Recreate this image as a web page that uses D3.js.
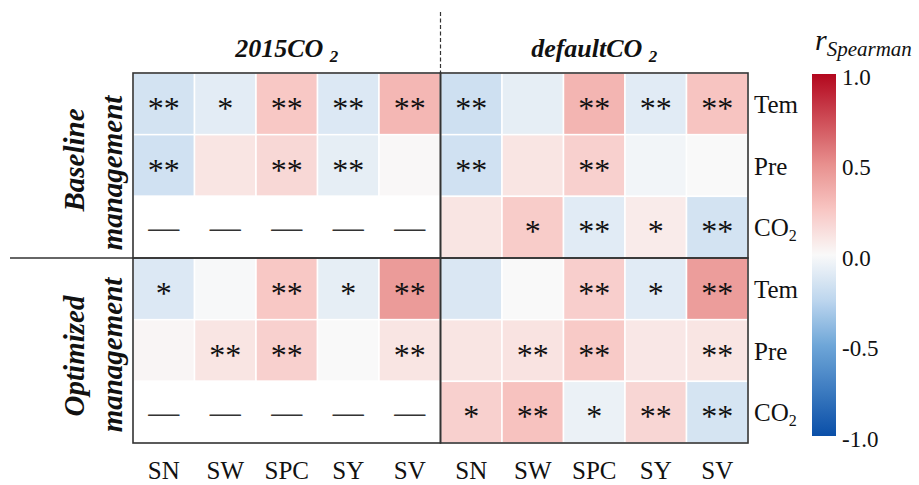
<!DOCTYPE html>
<html>
<head>
<meta charset="utf-8">
<script src="https://cdn.jsdelivr.net/npm/d3@7/dist/d3.min.js"></script>
<style>
  html, body { margin: 0; padding: 0; background: #fff; }
  svg { display: block; font-family: "Liberation Serif", "Times New Roman", serif; }
</style>
</head>
<body>
<svg id="chart" width="919" height="485"></svg>
<script>
// Spearman correlations between drivers and yield components
const components = ["SN", "SW", "SPC", "SY", "SV"];
const scenarios = ["2015CO2", "defaultCO2"];
const managements = [["Baseline", "management"], ["Optimized", "management"]];
const drivers = ["Tem", "Pre", "CO2"];

// columns: 2015CO2 (SN..SV) then defaultCO2 (SN..SV); null = not computed
const baselineTem = [-0.16, -0.09, 0.24, -0.12, 0.32, -0.18, -0.08, 0.33, -0.10, 0.26];
const baselinePre = [-0.17, 0.10, 0.16, -0.08, 0.01, -0.17, 0.10, 0.20, -0.03, 0.00];
const baselineCO2 = [null, null, null, null, null, 0.10, 0.22, -0.10, 0.07, -0.16];
const optimizedTem = [-0.12, -0.01, 0.24, -0.08, 0.45, -0.13, 0.00, 0.21, -0.10, 0.44];
const optimizedPre = [0.02, 0.10, 0.20, 0.00, 0.10, 0.10, 0.11, 0.23, 0.09, 0.10];
const optimizedCO2 = [null, null, null, null, null, 0.20, 0.27, -0.06, 0.17, -0.15];

// significance marks (* p<0.05, ** p<0.01)
const baselineTemSig = ["**", "*", "**", "**", "**", "**", "", "**", "**", "**"];
const baselinePreSig = ["**", "", "**", "**", "", "**", "", "**", "", ""];
const baselineCO2Sig = ["", "", "", "", "", "", "*", "**", "*", "**"];
const optimizedTemSig = ["*", "", "**", "*", "**", "", "", "**", "*", "**"];
const optimizedPreSig = ["", "**", "**", "", "**", "", "**", "**", "", "**"];
const optimizedCO2Sig = ["", "", "", "", "", "*", "**", "*", "**", "**"];

const colorbarTicks = [-1.0, -0.5, 0.0, 0.5, 1.0];

const rowValues = [baselineTem, baselinePre, baselineCO2, optimizedTem, optimizedPre, optimizedCO2];
const rowSig = [baselineTemSig, baselinePreSig, baselineCO2Sig, optimizedTemSig, optimizedPreSig, optimizedCO2Sig];
const rowIds = d3.range(rowValues.length);
const colIds = d3.range(scenarios.length * components.length);

const svg = d3.select("#chart");
const grid = { left: 133, right: 748, top: 73, bottom: 443 };

const x = d3.scaleBand().domain(colIds).range([grid.left, grid.right]);
const y = d3.scaleBand().domain(rowIds).range([grid.top, grid.bottom]);

const color = d3.scaleLinear()
  .domain([-1, -0.5, -0.25, 0, 0.25, 0.5, 1])
  .range(["#0a4fa8", "#6ea6d8", "#bdd6ee", "#f9f9f9", "#f8c6c3", "#e8908e", "#b3071e"])
  .interpolate(d3.interpolateRgb)
  .clamp(true);

const cells = [];
rowIds.forEach(r => colIds.forEach(c => {
  cells.push({ r, c, v: rowValues[r][c], s: rowSig[r][c] });
}));

// heat cells
svg.append("g").selectAll("rect").data(cells).join("rect")
  .attr("x", d => x(d.c))
  .attr("y", d => y(d.r))
  .attr("width", x.bandwidth())
  .attr("height", y.bandwidth())
  .attr("fill", d => d.v === null ? "#ffffff" : color(d.v))
  .attr("stroke", "#ffffff")
  .attr("stroke-width", 1.5);

// significance stars
svg.append("g").selectAll("text").data(cells.filter(d => d.s)).join("text")
  .attr("x", d => x(d.c) + x.bandwidth() / 2)
  .attr("y", d => y(d.r) + y.bandwidth() / 2 + 15)
  .attr("text-anchor", "middle")
  .attr("font-size", 32)
  .attr("fill", "#111")
  .text(d => d.s);

// dashes where no correlation is available
svg.append("g").selectAll("text").data(cells.filter(d => d.v === null)).join("text")
  .attr("x", d => x(d.c) + x.bandwidth() / 2)
  .attr("y", d => y(d.r) + y.bandwidth() / 2 + 11)
  .attr("text-anchor", "middle")
  .attr("font-size", 31)
  .attr("fill", "#333")
  .text("\u2014");

// panel borders: management x scenario
const panels = [];
managements.forEach((m, mi) => scenarios.forEach((s, si) => panels.push({ mi, si })));
svg.append("g").selectAll("rect").data(panels).join("rect")
  .attr("x", d => x(d.si * components.length))
  .attr("y", d => y(d.mi * drivers.length))
  .attr("width", x.bandwidth() * components.length)
  .attr("height", y.bandwidth() * drivers.length)
  .attr("fill", "none")
  .attr("stroke", "#333")
  .attr("stroke-width", 1.6);

// bottom component labels
const xAxis = d3.axisBottom(x).tickSize(0).tickPadding(0)
  .tickFormat(i => components[i % components.length]);
svg.append("g")
  .attr("transform", `translate(0,${grid.bottom + 36})`)
  .call(xAxis)
  .call(g => g.select(".domain").remove())
  .selectAll("text")
  .attr("font-family", "Liberation Serif")
  .attr("font-size", 25)
  .attr("fill", "#111")
  .attr("dy", 0);

// right driver labels (with subscript for CO2)
const rowLabels = svg.append("g").selectAll("text").data(rowIds).join("text")
  .attr("x", grid.right + 6)
  .attr("y", r => y(r) + y.bandwidth() / 2 + 9)
  .attr("font-size", 25)
  .attr("fill", "#111");
rowLabels.each(function (r) {
  const name = drivers[r % drivers.length];
  const t = d3.select(this);
  if (name === "CO2") {
    t.append("tspan").text("CO");
    t.append("tspan").attr("font-size", 16).attr("dy", 5).text("2");
  } else {
    t.text(name);
  }
});

// scenario headers
const headerX = si => x(si * components.length) + x.bandwidth() * components.length / 2;
scenarios.forEach((s, si) => {
  const t = svg.append("text")
    .attr("x", headerX(si))
    .attr("y", 57)
    .attr("text-anchor", "middle")
    .attr("font-size", 26)
    .attr("font-weight", "bold")
    .attr("font-style", "italic")
    .attr("fill", "#111");
  t.append("tspan").text(s.replace("CO2", "CO "));
  t.append("tspan").attr("font-size", 17).attr("dy", 5).text("2");
});

// management group labels (rotated), two lines each
const groupLabelPos = [
  [{ x: 84, y: 160 }, { x: 122, y: 173 }],
  [{ x: 84, y: 356 }, { x: 122, y: 355 }]
];
managements.forEach((lines, mi) => {
  lines.forEach((line, li) => {
    const p = groupLabelPos[mi][li];
    svg.append("text")
      .attr("transform", `translate(${p.x},${p.y}) rotate(-90)`)
      .attr("text-anchor", "middle")
      .attr("font-size", 29)
      .attr("font-weight", "bold")
      .attr("font-style", "italic")
      .attr("fill", "#111")
      .text(line);
  });
});

// separator between management groups
svg.append("line")
  .attr("x1", 10).attr("x2", grid.left)
  .attr("y1", y(drivers.length)).attr("y2", y(drivers.length))
  .attr("stroke", "#333").attr("stroke-width", 1.6);

// dashed separator between scenarios
svg.append("line")
  .attr("x1", x(components.length)).attr("x2", x(components.length))
  .attr("y1", 12).attr("y2", grid.top)
  .attr("stroke", "#333").attr("stroke-width", 1.2)
  .attr("stroke-dasharray", "4,2.5");

// colour bar
const cb = { x: 812, w: 24, top: 74, bottom: 436 };
const cbScale = d3.scaleLinear().domain([-1, 1]).range([cb.bottom, cb.top]);
const defs = svg.append("defs");
const grad = defs.append("linearGradient").attr("id", "cbGrad")
  .attr("x1", 0).attr("y1", 1).attr("x2", 0).attr("y2", 0);
d3.range(0, 1.0001, 0.025).forEach(t => {
  const v = -1 + 2 * t;
  grad.append("stop").attr("offset", t).attr("stop-color", color(v));
});
svg.append("rect")
  .attr("x", cb.x).attr("y", cb.top)
  .attr("width", cb.w).attr("height", cb.bottom - cb.top)
  .attr("fill", "url(#cbGrad)");

svg.append("g")
  .attr("transform", `translate(${cb.x + cb.w},0)`)
  .call(d3.axisRight(cbScale).tickValues(colorbarTicks).tickSize(0).tickPadding(6)
    .tickFormat(d => d.toFixed(1)))
  .call(g => g.select(".domain").remove())
  .selectAll("text")
  .attr("font-family", "Liberation Serif")
  .attr("font-size", 23)
  .attr("fill", "#111")
  .attr("dy", "0.45em");

// colour bar title
const title = svg.append("text")
  .attr("x", 815).attr("y", 50)
  .attr("font-style", "italic")
  .attr("fill", "#111");
title.append("tspan").attr("font-size", 30).text("r");
title.append("tspan").attr("font-size", 21).attr("dy", 6).text("Spearman");
</script>
</body>
</html>
